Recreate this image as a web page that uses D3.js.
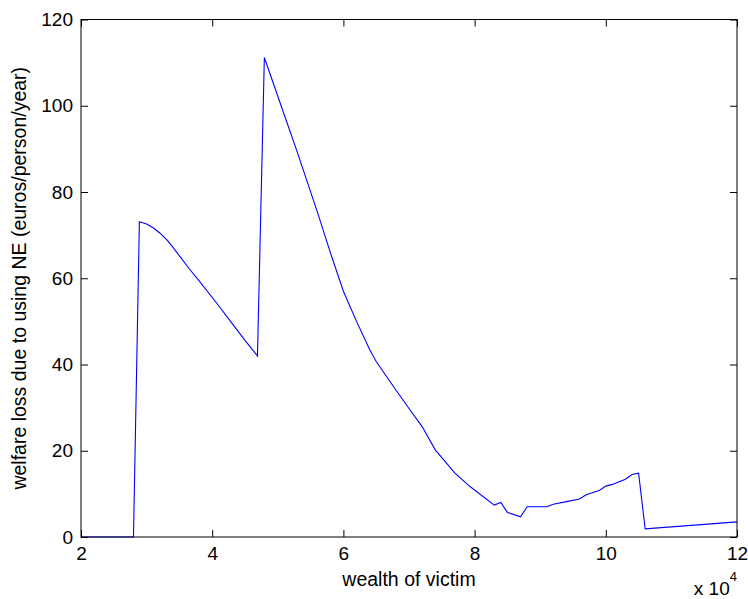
<!DOCTYPE html>
<html>
<head>
<meta charset="utf-8">
<script src="https://cdn.jsdelivr.net/npm/d3@7"></script>
<style>
  body { margin: 0; background: #fff; }
  svg text { font-family: "Liberation Sans", Arial, sans-serif; fill: #000; }
</style>
</head>
<body>
<svg width="748" height="599"></svg>
<script>
// wealth of victim, in units of 10^4
var wealth = [2, 2.8, 2.89, 3.0, 3.1, 3.2, 3.31, 3.4, 3.51, 3.65, 3.81, 4.07, 4.32, 4.5, 4.69,
              4.795, 5.0, 5.28, 5.6, 5.8, 6.0, 6.2, 6.4, 6.5, 6.8, 7.0, 7.2, 7.4, 7.7, 7.93,
              8.3, 8.4, 8.5, 8.7, 8.8, 9.1, 9.2, 9.4, 9.6, 9.7, 9.9, 10.0, 10.1, 10.3, 10.4,
              10.5, 10.6, 12.0];
// welfare loss (euros/person/year)
var loss = [0, 0, 73.1, 72.6, 71.7, 70.5, 68.9, 67.2, 65.0, 62.2, 59.2, 54.2, 49.2, 45.6, 42.0,
            111.2, 102.2, 90.0, 75.5, 66.0, 57.0, 50.0, 43.5, 40.7, 34.1, 29.8, 25.6, 20.2, 14.8, 11.7,
            7.4, 8.0, 5.7, 4.7, 7.0, 7.0, 7.6, 8.2, 8.8, 9.8, 10.8, 11.8, 12.2, 13.4, 14.5,
            14.8, 1.9, 3.5];
var xTicks = [2, 4, 6, 8, 10, 12];
var yTicks = [0, 20, 40, 60, 80, 100, 120];

var svg = d3.select("svg");
var plotLeft = 81, plotRight = 737, plotTop = 19.5, plotBottom = 537;
var tickLen = 7;

var x = d3.scaleLinear().domain([2, 12]).range([plotLeft, plotRight]);
var y = d3.scaleLinear().domain([0, 120]).range([plotBottom, plotTop]);

var data = wealth.map(function(w, i) { return { w: w, v: loss[i] }; });

// the curve
var line = d3.line()
    .x(function(d) { return x(d.w); })
    .y(function(d) { return y(d.v); });

svg.append("path")
    .datum(data)
    .attr("d", line)
    .attr("fill", "none")
    .attr("stroke", "#0000ff")
    .attr("stroke-width", 1.1);

// axes, ticks pointing inward on all four sides
svg.append("g")
    .attr("transform", "translate(0," + plotBottom + ")")
    .call(d3.axisBottom(x).tickValues(xTicks).tickSize(-tickLen).tickPadding(10))
    .call(function(g) { g.select(".domain").remove(); });

svg.append("g")
    .attr("transform", "translate(0," + plotTop + ")")
    .call(d3.axisTop(x).tickValues(xTicks).tickSize(-tickLen).tickFormat(""))
    .call(function(g) { g.select(".domain").remove(); });

svg.append("g")
    .attr("transform", "translate(" + plotLeft + ",0)")
    .call(d3.axisLeft(y).tickValues(yTicks).tickSize(-tickLen).tickPadding(8))
    .call(function(g) { g.select(".domain").remove(); });

svg.append("g")
    .attr("transform", "translate(" + plotRight + ",0)")
    .call(d3.axisRight(y).tickValues(yTicks).tickSize(-tickLen).tickFormat(""))
    .call(function(g) { g.select(".domain").remove(); });

svg.selectAll(".tick line").attr("stroke", "#000");
svg.selectAll(".tick text").attr("font-size", "19px");

// box
svg.append("rect")
    .attr("x", plotLeft).attr("y", plotTop)
    .attr("width", plotRight - plotLeft).attr("height", plotBottom - plotTop)
    .attr("fill", "none")
    .attr("stroke", "#000")
    .attr("stroke-width", 1);

// labels
svg.append("text")
    .attr("x", (plotLeft + plotRight) / 2)
    .attr("y", 585.5)
    .attr("text-anchor", "middle")
    .attr("font-size", "19.5px")
    .text("wealth of victim");

svg.append("text")
    .attr("transform", "translate(26," + (plotTop + plotBottom) / 2 + ") rotate(-90)")
    .attr("text-anchor", "middle")
    .attr("font-size", "19.5px")
    .text("welfare loss due to using NE (euros/person/year)");

var mult = svg.append("text")
    .attr("x", 737)
    .attr("y", 595)
    .attr("text-anchor", "end")
    .attr("font-size", "19px");
mult.append("tspan").text("x 10");
mult.append("tspan").attr("dy", -14).attr("font-size", "13px").text("4");
</script>
</body>
</html>
